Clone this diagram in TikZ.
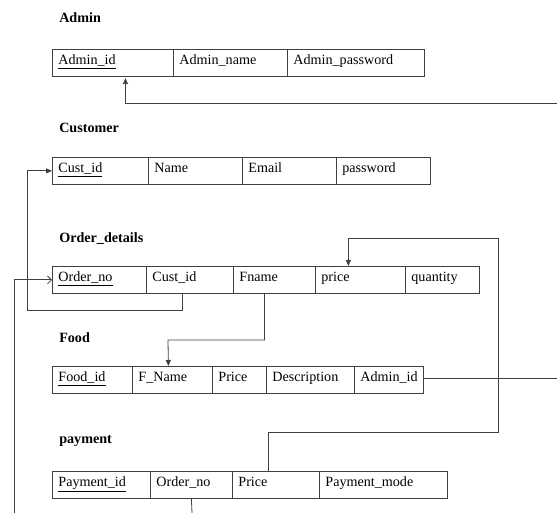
\documentclass[tikz,border=0pt]{standalone}
\usepackage{fontspec}
\setmainfont{Liberation Serif}
\usetikzlibrary{arrows.meta}
\tikzset{
  cell/.style={draw=black!75, line width=0.6pt, rectangle, anchor=north west,
    inner xsep=4.5pt, inner ysep=0pt, minimum height=20.25pt,
    text height=7pt, text depth=4.8pt, align=left,
    font=\fontsize{10.6}{12}\selectfont},
  title/.style={anchor=base west, inner sep=0pt, font=\fontsize{10.6}{12}\selectfont\bfseries},
  conn/.style={draw=black!75, line width=0.6pt},
  arr/.style={conn, -{Triangle[length=4.5pt,width=3.8pt]}},
  openarr/.style={conn, -{Straight Barb[length=3pt,width=6pt]}}
}
\newcommand\tcell[5]{%
  \pgfmathsetmacro\cw{(#3-#2)*0.75}%
  \pgfmathsetmacro\tw{(#3-#2)*0.75-9}%
  \node[cell, minimum width=\cw pt, text width=\tw pt] (#1) at (#2,#4) {#5};%
}
\begin{document}
\begin{tikzpicture}[x=0.75pt,y=-0.75pt]
\useasboundingbox (0,0) rectangle (557,513);
% titles
\node[title] (tadmin) at (59,23) {Admin};
\node[title] (tcust) at (59,133) {Customer};
\node[title] (torder) at (59,243) {Order\_details};
\node[title] (tfood) at (59,343) {Food};
\node[title] (tpay) at (59,443) {payment};
% Admin
\tcell{a1}{52}{173}{49}{\underline{Admin\_id}}
\tcell{a2}{173}{287}{49}{Admin\_name}
\tcell{a3}{287}{424}{49}{Admin\_password}
% Customer
\tcell{c1}{52}{148}{157}{\underline{Cust\_id}}
\tcell{c2}{148}{242}{157}{Name}
\tcell{c3}{242}{336}{157}{Email}
\tcell{c4}{336}{430}{157}{password}
% Order details
\tcell{o1}{52}{146}{266}{\underline{Order\_no}}
\tcell{o2}{146}{233}{266}{Cust\_id}
\tcell{o3}{233}{315}{266}{Fname}
\tcell{o4}{315}{405}{266}{price}
\tcell{o5}{405}{479}{266}{quantity}
% Food
\tcell{f1}{52}{132}{366}{\underline{Food\_id}}
\tcell{f2}{132}{212}{366}{F\_Name}
\tcell{f3}{212}{266}{366}{Price}
\tcell{f4}{266}{354}{366}{Description}
\tcell{f5}{354}{423}{366}{Admin\_id}
% payment
\tcell{p1}{52}{150}{471}{\underline{Payment\_id}}
\tcell{p2}{150}{232}{471}{Order\_no}
\tcell{p3}{232}{319}{471}{Price}
\tcell{p4}{319}{447}{471}{Payment\_mode}
% free ends
\coordinate (r1) at (557,103);
\coordinate (r2) at (557,377);
\coordinate (bl) at (14,513);
\coordinate (bp) at (192,513);
% connectors
\draw[arr] (r1) -| ([xshift=9.4pt,yshift=-1pt]a1.south);
\draw[conn] ([yshift=1.5pt]f5.east) -- ([yshift=1.5pt]f5.east -| r2);
\draw[arr] ([xshift=-5.6pt]o2.south) |- (27,310) |- (c1.west);
\draw[openarr] (bl) |- (o1.west);
\draw[conn] (p2.south) -- (bp);
\draw[arr] ([xshift=-5.6pt]p3.north) |- (498,432) -- (498,238) -| ([xshift=-9pt]o4.north);
\draw[arr] ([xshift=-7.5pt]o3.south) |- (168,340) -- ([xshift=-3pt]f2.north);
\end{tikzpicture}
\end{document}
